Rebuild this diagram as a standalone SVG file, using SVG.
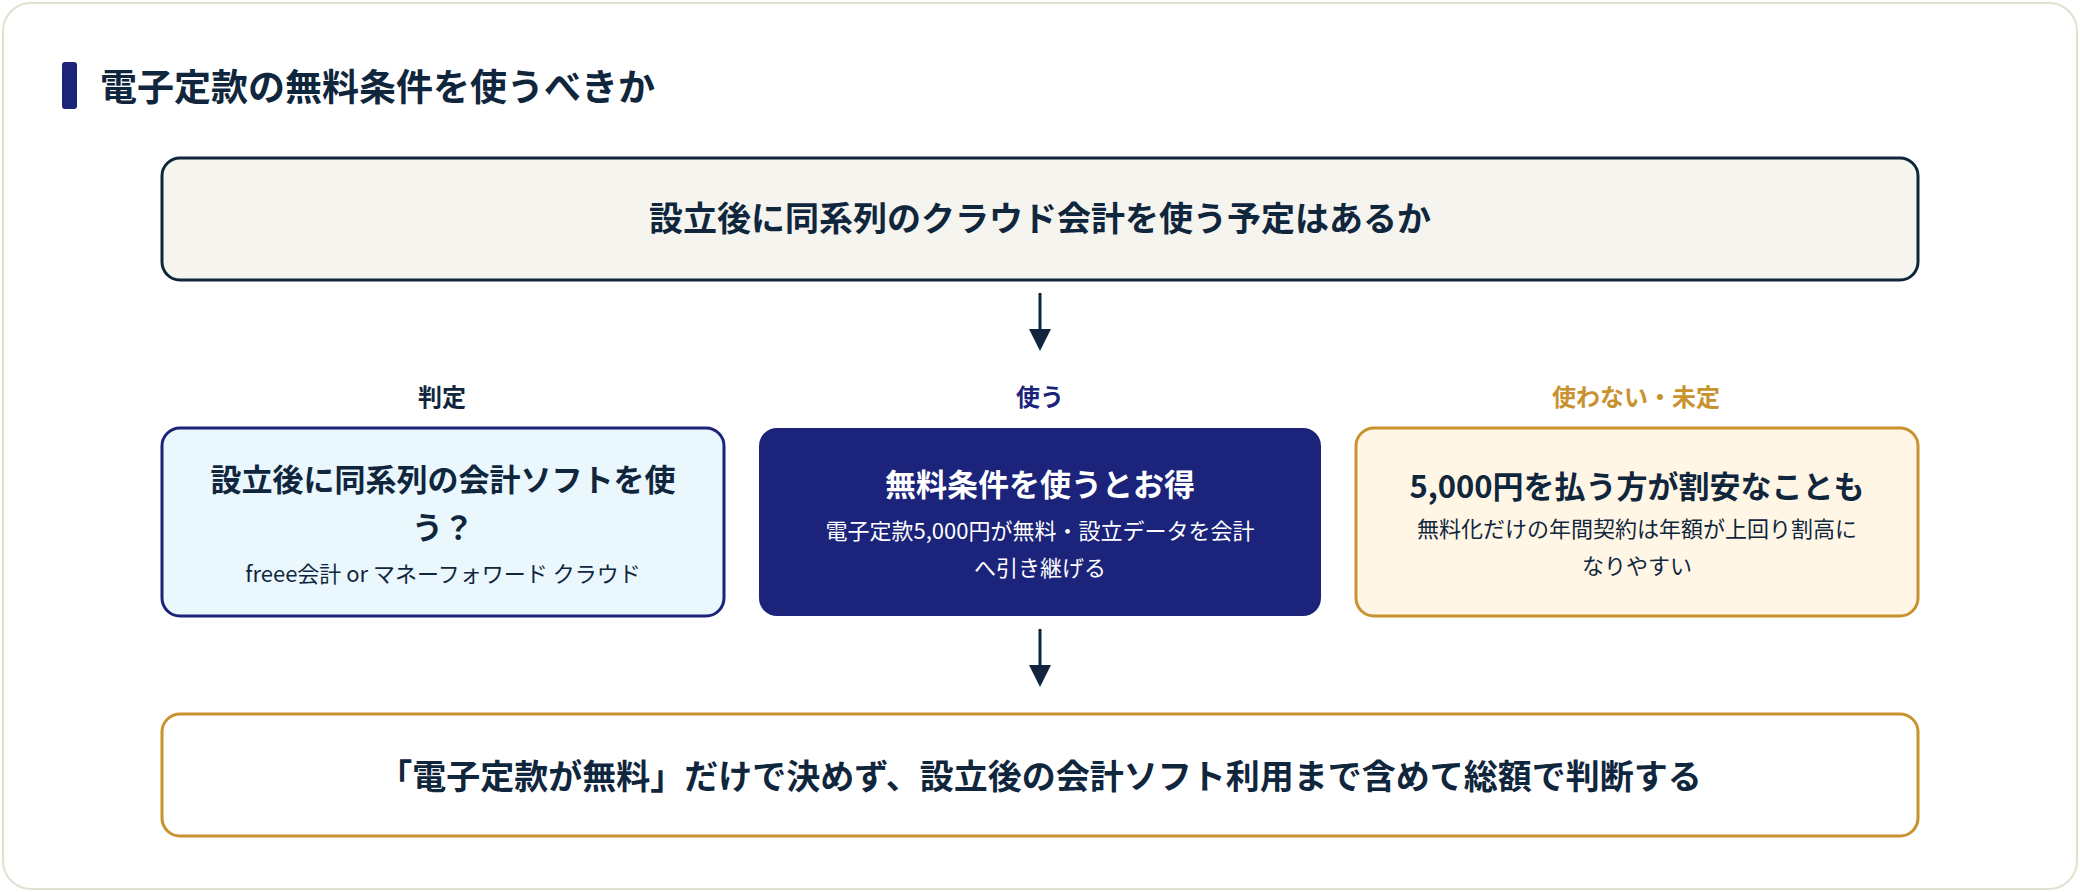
<svg xmlns="http://www.w3.org/2000/svg" width="2080" height="892" viewBox="0 0 2080 892">
<defs>
<style>
text{font-family:"Noto Sans CJK JP","Noto Sans",sans-serif;text-anchor:middle}
.b{font-weight:700}
.dk{fill:#10263d}
</style>
<marker id="ah" viewBox="0 0 10 10" refX="5" refY="10" markerWidth="10" markerHeight="10" markerUnits="userSpaceOnUse" orient="auto-start-reverse">
<path d="M0,0 L10,0 L5,10 Z" fill="#10263d" transform="rotate(-90 5 5) translate(0 0)"/>
</marker>
</defs>
<rect x="0" y="0" width="2080" height="892" fill="#ffffff"/>
<rect x="3" y="3" width="2074" height="886" rx="28" fill="#ffffff" stroke="#e3e0d2" stroke-width="2"/>
<g id="title">
<rect x="62" y="62" width="15" height="47" rx="3" fill="#1b237a"/>
<text x="100" y="101" class="b dk" font-size="37" style="text-anchor:start">電子定款の無料条件を使うべきか</text>
</g>
<g id="q">
<rect x="162" y="158" width="1756" height="122" rx="18" fill="#f5f4ef" stroke="#10263d" stroke-width="3"/>
<text x="1040" y="231" class="b dk" font-size="34">設立後に同系列のクラウド会計を使う予定はあるか</text>
</g>
<g id="labels" font-size="24">
<text x="442" y="406" class="b dk">判定</text>
<text x="1040" y="406" class="b" fill="#1b237a">使う</text>
<text x="1636" y="406" class="b" fill="#c8922f">使わない・未定</text>
</g>
<g id="judge">
<rect x="162" y="428" width="562" height="188" rx="18" fill="#eaf7fd" stroke="#1b237a" stroke-width="3"/>
<text x="443" y="491" class="b dk" font-size="31">設立後に同系列の会計ソフトを使</text>
<text x="443" y="539" class="b dk" font-size="31">う？</text>
<text x="443" y="582" class="dk" font-size="22">freee会計 or マネーフォワード クラウド</text>
</g>
<g id="use">
<rect x="759" y="428" width="562" height="188" rx="18" fill="#1b237a"/>
<text x="1040" y="496" class="b" fill="#ffffff" font-size="31">無料条件を使うとお得</text>
<text x="1040" y="539" fill="#ffffff" font-size="22">電子定款5,000円が無料・設立データを会計</text>
<text x="1040" y="576" fill="#ffffff" font-size="22">へ引き継げる</text>
</g>
<g id="nouse">
<rect x="1356" y="428" width="562" height="188" rx="18" fill="#fff6e5" stroke="#c8922f" stroke-width="3"/>
<text x="1637" y="498" class="b dk" font-size="31">5,000円を払う方が割安なことも</text>
<text x="1637" y="537" class="dk" font-size="22">無料化だけの年間契約は年額が上回り割高に</text>
<text x="1637" y="574" class="dk" font-size="22">なりやすい</text>
</g>
<g id="concl">
<rect x="162" y="714" width="1756" height="122" rx="18" fill="#ffffff" stroke="#c8922f" stroke-width="3"/>
<text x="1040" y="789" class="b dk" font-size="34">「電子定款が無料」だけで決めず、設立後の会計ソフト利用まで含めて総額で判断する</text>
</g>
<g id="connectors" stroke="#10263d" stroke-width="3" fill="#10263d">
<line x1="1040" y1="293" x2="1040" y2="332"/>
<path d="M1029,329 L1051,329 L1040,351 Z" stroke="none"/>
<line x1="1040" y1="629" x2="1040" y2="668"/>
<path d="M1029,665 L1051,665 L1040,687 Z" stroke="none"/>
</g>
</svg>
